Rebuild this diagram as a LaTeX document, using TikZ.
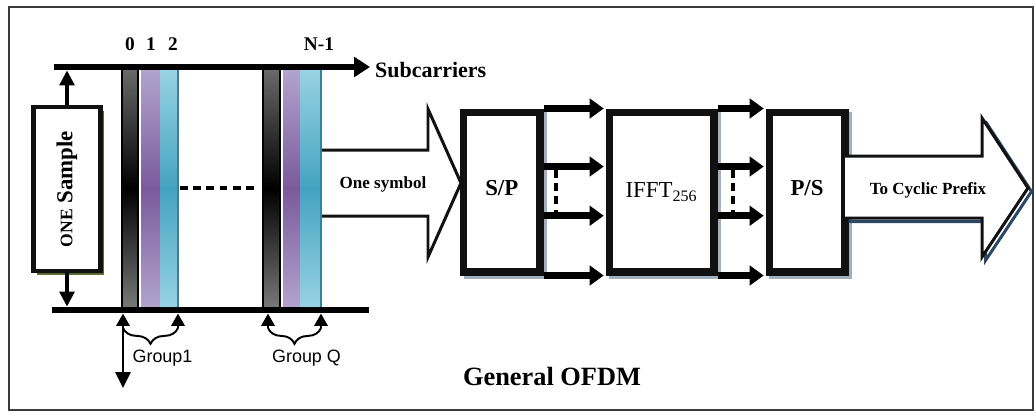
\documentclass[tikz,border=0pt]{standalone}
\usepackage{fontspec}
\setmainfont{Liberation Serif}
\newfontfamily\grpfont{Liberation Sans}
\usetikzlibrary{arrows.meta,calc,positioning,decorations.pathreplacing}
\definecolor{Ink}{HTML}{111111}
\definecolor{Frame}{HTML}{3A3A3A}
\definecolor{BarGrey}{HTML}{6A6A6A}
\definecolor{PurpleLt}{HTML}{B2A4CE}
\definecolor{PurpleDk}{HTML}{7A5A9C}
\definecolor{CyanLt}{HTML}{98D3E3}
\definecolor{CyanDk}{HTML}{44A3C1}
\definecolor{Olive}{HTML}{5E6E32}
\definecolor{BoxShadow}{HTML}{A3B0BF}
\definecolor{Navy}{HTML}{2B4766}

\begin{document}
\begin{tikzpicture}[x=0.02cm,y=-0.02cm,
  axisline/.style={line width=3.4pt},
  vertarrow/.style={line width=1.8pt,-{Triangle[length=8.5pt,width=8.5pt]}},
  grparrow/.style={line width=1.4pt,-{Triangle[length=7pt,width=7.5pt]}},
  grpbrace/.style={line width=1.1pt,decorate,decoration={brace,mirror,amplitude=9pt}},
  grplabel/.style={font=\grpfont\fontsize{10.2}{12}\selectfont},
  idxlabel/.style={font=\bfseries\fontsize{11}{13}\selectfont},
  procbox/.style={draw=Ink,fill=white,line width=4pt,minimum height=3.2cm,inner sep=0pt},
  linkarrow/.style={line width=4pt,-{Triangle[length=8pt,width=11pt]},shorten >=1pt},
  dashline/.style={line width=1.8pt,dash pattern=on 4.5pt off 3pt},
  blockarrow/.style={draw=Ink,fill=white,line width=1.7pt,line join=miter},
  arrowtext/.style={font=\bfseries\fontsize{9.7}{11}\selectfont}
]
\useasboundingbox (0,0) rectangle (1035,414);
\draw[Frame,line width=1pt] (9,7) rectangle (1033,410);

% subcarrier bars
\foreach \xa/\xb/\xc/\xd in {122/138/160/178,263/280/300/321}{
  \shade[top color=BarGrey,bottom color=BarGrey!90,middle color=black] (\xa,69) rectangle (\xb,308);
  \draw[black,line width=1.2pt] (\xa,69) rectangle (\xb,308);
  \shade[top color=PurpleLt,bottom color=PurpleLt,middle color=PurpleDk] (\xb+3,69) rectangle (\xc,308);
  \draw[PurpleDk!80!black,line width=0.4pt] (\xc,69) -- (\xc,308);
  \shade[top color=CyanLt,bottom color=CyanLt,middle color=CyanDk] (\xc,69) rectangle (\xd,308);
  \draw[CyanDk!80!black,line width=0.6pt] (\xd,69) -- (\xd,308);
}
\draw[dashline] (180,188) -- (259,188);

% axes
\coordinate (tl) at (54,67);
\coordinate (tr) at (370,67);
\coordinate (bl) at (52,310);
\coordinate (br) at (369,310);
\draw[axisline,-{Triangle[length=9pt,width=11pt]}] (tl) -- (tr);
\draw[axisline] (bl) -- (br);
\node[anchor=west,font=\bfseries\fontsize{12.5}{14}\selectfont] (sub) at (369,70) {Subcarriers};
\foreach \x/\t [count=\i] in {130/0,151/1,173/2,319/N-1}
  \node[idxlabel] (idx\i) at (\x,44) {\t};

% one sample
\fill[Olive] (37,110.5) rectangle (104.3,275);
\node[procbox,line width=2.3pt,rotate=90,minimum width=3.29cm,minimum height=1.34cm,
  font=\bfseries\fontsize{13}{15}\selectfont] (sample) at (67,189) {{\fontsize{10}{12}\selectfont ONE} Sample};
\coordinate (sampletop) at (67,70.5);
\coordinate (samplebot) at (67,306.5);
\draw[vertarrow] (sample.east) -- (sampletop);
\draw[vertarrow] (sample.west) -- (samplebot);

% groups
\foreach \ga/\gb/\gt [count=\i] in {123/178/Group1,268/321/Group Q}{
  \coordinate (g\i l) at (\ga,328);
  \coordinate (g\i r) at (\gb,328);
  \draw[grparrow] (g\i l) -- (\ga,313.5);
  \draw[grparrow] (g\i r) -- (\gb,313.5);
  \draw[grpbrace] (g\i l) -- (g\i r);
  \node[grplabel] (grp\i) at ($(g\i l)!0.5!(g\i r)+(12,30)$) {\gt};
}
\coordinate (g1down) at (123,388);
\draw[line width=1.6pt,-{Triangle[length=9pt,width=8.5pt]}] (g1l) -- (g1down);

% one symbol arrow
\draw[blockarrow] (322,150) -- (428,150) -- (428,109) -- (461,183) -- (428,257) -- (428,216) -- (322,216);
\node[arrowtext] (sym) at (383,184) {One symbol};

% processing blocks
\fill[BoxShadow] (464,112) rectangle (546.5,278.5);
\fill[BoxShadow] (609,112) rectangle (720.5,278.5);
\fill[BoxShadow] (769,112) rectangle (851.5,278.5);
\node[procbox,minimum width=1.53cm,font=\bfseries\fontsize{13}{15}\selectfont] (sp) at (501.75,192) {\raisebox{5pt}{S/P}};
\node[procbox,minimum width=2.1cm,font=\fontsize{13}{15}\selectfont] (ifft) at (661.5,192) {IFFT\textsubscript{256}\hspace{11pt}};
\node[procbox,minimum width=1.52cm,font=\bfseries\fontsize{13}{15}\selectfont] (ps) at (807,192) {\raisebox{5pt}{P/S}};

\foreach \a/\b/\dx in {sp/ifft/556,ifft/ps/733}{
  \draw[linkarrow] (\a.north east) -- (\b.north west);
  \draw[linkarrow] ([yshift=14.5pt]\a.east) -- ([yshift=14.5pt]\b.west);
  \draw[linkarrow] ([yshift=-13.5pt]\a.east) -- ([yshift=-13.5pt]\b.west);
  \draw[linkarrow] (\a.south east) -- (\b.south west);
  \draw[dashline] (\dx,170) -- (\dx,212);
}

% to cyclic prefix arrow
\draw[Navy,line width=1.7pt,line join=miter,shift={(3.5,3.5)}] (845,218) -- (982,218) -- (982,257) -- (1028,188) -- (982,118);
\draw[blockarrow] (845,156) -- (982,156) -- (982,118) -- (1028,188) -- (982,257) -- (982,218) -- (845,218);
\node[arrowtext] (cp) at (928,190) {To Cyclic Prefix};

\node[font=\bfseries\fontsize{15}{18}\selectfont] (title) at (552,376) {General OFDM};
\end{tikzpicture}
\end{document}
